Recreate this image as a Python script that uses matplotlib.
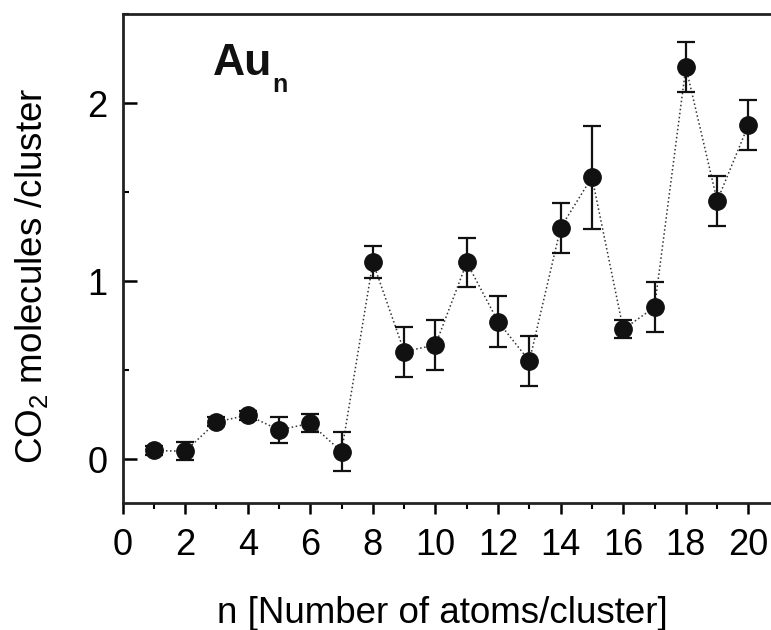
import numpy as np
import matplotlib
matplotlib.use("Agg")
import matplotlib.pyplot as plt
from matplotlib.ticker import MultipleLocator

plt.rcParams['font.family'] = ['Liberation Sans', 'DejaVu Sans']
plt.rcParams['mathtext.fontset'] = 'custom'
plt.rcParams['mathtext.rm'] = 'Liberation Sans'
plt.rcParams['mathtext.it'] = 'Liberation Sans:italic'
plt.rcParams['mathtext.bf'] = 'Liberation Sans:bold'

# cluster size and CO2 uptake
n_atoms = [1, 2, 3, 4, 5, 6, 7, 8, 9, 10, 11, 12, 13, 14, 15, 16, 17, 18, 19, 20]
co2_per_cluster = [0.05, 0.045, 0.21, 0.248, 0.165, 0.202, 0.043, 1.107, 0.605, 0.642,
                   1.105, 0.773, 0.552, 1.301, 1.584, 0.73, 0.854, 2.202, 1.451, 1.878]
co2_err = [0.025, 0.05, 0.025, 0.025, 0.071, 0.05, 0.11, 0.089, 0.14, 0.14,
           0.138, 0.142, 0.142, 0.14, 0.29, 0.05, 0.139, 0.138, 0.14, 0.14]

fig = plt.figure(figsize=(7.71, 6.30), dpi=100)
ax = fig.add_axes([0.1589, 0.2016, 0.8411, 0.7762])

ax.plot(n_atoms, co2_per_cluster, linestyle=':', color='#333333', linewidth=1.1, zorder=2)
ax.errorbar(n_atoms, co2_per_cluster, yerr=co2_err, fmt='o', color='#111111',
            markersize=12.5, elinewidth=1.6, capsize=6.5, capthick=1.6, zorder=3)

ax.set_xlim(0, 20.72)
ax.set_ylim(-0.245, 2.50)

ax.xaxis.set_major_locator(MultipleLocator(2))
ax.xaxis.set_minor_locator(MultipleLocator(1))
ax.yaxis.set_major_locator(MultipleLocator(1))
ax.yaxis.set_minor_locator(MultipleLocator(0.5))

ax.tick_params(axis='x', which='major', direction='out', length=8, width=1.8,
               labelsize=26, pad=10, top=False)
ax.tick_params(axis='x', which='minor', direction='out', length=4, width=1.5, top=False)
ax.tick_params(axis='y', which='major', direction='in', length=10, width=1.8,
               labelsize=26, pad=11, right=False)
ax.tick_params(axis='y', which='minor', direction='in', length=4, width=1.5, right=False)

for side in ['left', 'top', 'bottom']:
    ax.spines[side].set_linewidth(2)
    ax.spines[side].set_color('#222222')
ax.spines['right'].set_visible(False)

ax.set_xlabel('n [Number of atoms/cluster]', fontsize=26.5)
ax.xaxis.set_label_coords(0.493, -0.19)
ax.set_ylabel('CO$_2$ molecules /cluster', fontsize=26.5)
ax.yaxis.set_label_coords(-0.112, 0.464)

ax.text(0.1396, 0.875, 'Au', transform=ax.transAxes, fontsize=32, fontweight='bold',
        ha='left', va='baseline', color='#111111')
ax.text(0.231, 0.840, 'n', transform=ax.transAxes, fontsize=18, fontweight='bold',
        ha='left', va='baseline', color='#111111')

fig.savefig('out.png', dpi=100)
